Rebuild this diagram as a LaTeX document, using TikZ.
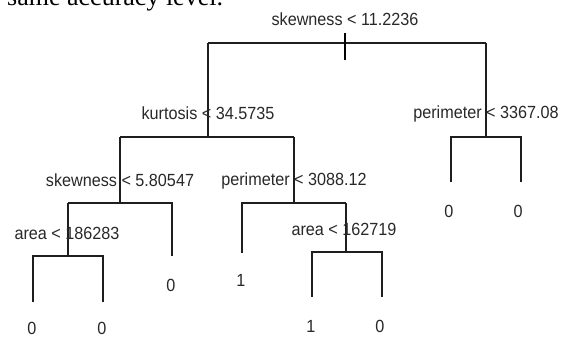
\documentclass[tikz,border=0pt]{standalone}
\usepackage{fontspec}
\setmainfont{Liberation Sans}
\newfontfamily\lblfont[FakeStretch=0.92]{Liberation Sans}
\newfontfamily\seriffont{Liberation Serif}
\definecolor{linecol}{RGB}{30,30,30}
\definecolor{txtcol}{RGB}{40,40,40}
\tikzset{
  edge/.style={draw=linecol, line width=1.3pt},
  stub/.style={draw=black, line width=2.6pt},
  lbl/.style={text=txtcol, font=\lblfont\fontsize{17.6}{19}\selectfont, inner sep=0pt, anchor=base},
}
\begin{document}
\begin{tikzpicture}[x=1pt,y=-1pt]
\useasboundingbox (0,0) rectangle (563,338);
\begin{scope}
\clip (0,0) rectangle (563,338);
\node[anchor=base west, inner sep=0pt, font=\seriffont\fontsize{26}{30}\selectfont] (cut) at (7,5) {same accuracy level.};
\end{scope}

% split points (tops of child verticals)
\coordinate (n1) at (345,43);
\coordinate (n2) at (208,43);
\coordinate (n3) at (486,43);
\coordinate (n4) at (120,137);
\coordinate (n5) at (294,137);
\coordinate (n6) at (451,137);
\coordinate (n7) at (521,137);
\coordinate (n8) at (68,203);
\coordinate (n9) at (172,203);
\coordinate (n10) at (242,203);
\coordinate (n11) at (346,203);
\coordinate (n16) at (33,256);
\coordinate (n17) at (103,256);
\coordinate (n22) at (312,252);
\coordinate (n23) at (382,252);
% leaf ends
\coordinate (e6) at (451,182);
\coordinate (e7) at (521,182);
\coordinate (e9) at (172,256);
\coordinate (e10) at (242,253);
\coordinate (e16) at (33,302);
\coordinate (e17) at (103,302);
\coordinate (e22) at (312,297);
\coordinate (e23) at (382,297);
\coordinate (s1) at (345,33);
\coordinate (s2) at (345,60);

% connectors
\draw[edge] (n1) -- (n2);
\draw[edge] (n1) -- (n3);
\draw[stub] (s1) -- (s2);
\draw[edge] (n2) |- (n4);
\draw[edge] (n2) |- (n5);
\draw[edge] (n3) |- (n6) -- (e6);
\draw[edge] (n3) |- (n7) -- (e7);
\draw[edge] (n4) |- (n8);
\draw[edge] (n4) |- (n9) -- (e9);
\draw[edge] (n5) |- (n10) -- (e10);
\draw[edge] (n5) |- (n11);
\draw[edge] (n8) |- (n16) -- (e16);
\draw[edge] (n8) |- (n17) -- (e17);
\draw[edge] (n11) |- (n22) -- (e22);
\draw[edge] (n11) |- (n23) -- (e23);

% split labels
\node[lbl] (l1) at (345,25) {skewness < 11.2236};
\node[lbl] (l2) at (208,119) {kurtosis < 34.5735};
\node[lbl] (l3) at (486,118) {perimeter < 3367.08};
\node[lbl] (l4) at (120,186) {skewness < 5.80547};
\node[lbl] (l5) at (294,185) {perimeter < 3088.12};
\node[lbl] (l8) at (67,239) {area < 186283};
\node[lbl] (l11) at (344,235) {area < 162719};
% leaf labels
\node[lbl] (t6) at (449,217) {0};
\node[lbl] (t7) at (518,217) {0};
\node[lbl] (t9) at (171,291) {0};
\node[lbl] (t10) at (241,286) {1};
\node[lbl] (t16) at (32,334) {0};
\node[lbl] (t17) at (102,334) {0};
\node[lbl] (t22) at (311,332) {1};
\node[lbl] (t23) at (380,332) {0};
\end{tikzpicture}
\end{document}
